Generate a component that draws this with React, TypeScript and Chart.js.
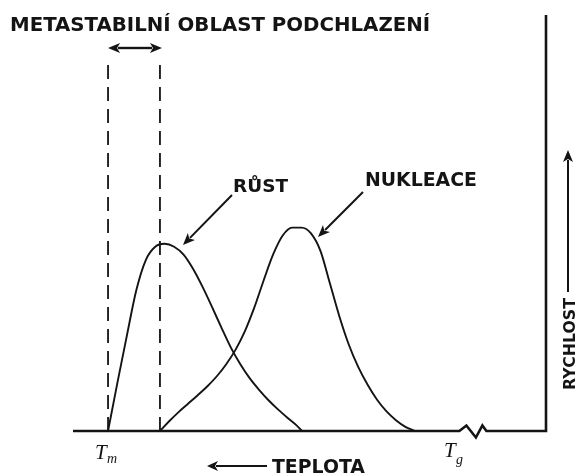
import { useEffect, useRef } from 'react';
import { Chart, registerables } from 'chart.js';

Chart.register(...registerables);

// Temperature axis in arbitrary units (0 = left end of axis, 100 = right end)
const GROWTH_T = [7, 9, 11, 13, 15, 17, 19, 21, 23, 25, 27, 29, 31, 33, 35, 37, 39, 41, 43, 45, 47, 48.1];
const GROWTH_RATE = [0, 11.7, 23, 33.9, 41.1, 44.3, 45, 44.3, 42.4, 39, 34.7, 29.9, 24.9, 20.1, 16.1, 12.7, 9.9, 7.4, 5.2, 3.2, 1.3, 0];
const NUCL_T = [18, 20, 22, 24, 26, 28, 30, 32, 34, 36, 38, 40, 42, 44, 46, 48, 50, 52, 54, 56, 58, 60, 62, 64, 66, 68, 70, 72];
const NUCL_RATE = [0, 2.4, 4.6, 6.6, 8.6, 10.7, 13.1, 16, 19.5, 24, 29.7, 36.3, 42.5, 47, 48.9, 48.9, 47.5, 43.3, 35.5, 27.6, 20.8, 15.4, 11.1, 7.5, 4.7, 2.6, 1, 0];

const TM = 7; // melting temperature
const META_LIMIT = 18; // end of metastable region
const TG = 80.7; // glass transition
const AXIS_BREAK = 84.3;
const DASH_TOP = 88;

const TITLE = 'METASTABILNÍ OBLAST PODCHLAZENÍ';
const GROWTH_LABEL = 'RŮST';
const NUCL_LABEL = 'NUKLEACE';
const X_TITLE = 'TEPLOTA';
const Y_TITLE = 'RYCHLOST';

const INK = '#141414';
const SANS = '"DejaVu Sans", Verdana, sans-serif';
const SERIF = '"Liberation Serif", "DejaVu Serif", serif';

function fitText(ctx: CanvasRenderingContext2D, text: string, x: number, y: number, width: number) {
  ctx.font = `bold 100px ${SANS}`;
  const w = ctx.measureText(text).width;
  const size = (100 * width) / w;
  ctx.font = `bold ${size.toFixed(2)}px ${SANS}`;
  ctx.textAlign = 'left';
  ctx.textBaseline = 'alphabetic';
  ctx.fillText(text, x, y);
}

function arrow(ctx: CanvasRenderingContext2D, x1: number, y1: number, x2: number, y2: number, head = 11, half = 5) {
  const ang = Math.atan2(y2 - y1, x2 - x1);
  const bx = x2 - head * Math.cos(ang);
  const by = y2 - head * Math.sin(ang);
  ctx.beginPath();
  ctx.moveTo(x1, y1);
  ctx.lineTo(bx + 2 * Math.cos(ang), by + 2 * Math.sin(ang));
  ctx.stroke();
  ctx.beginPath();
  ctx.moveTo(x2, y2);
  ctx.lineTo(bx - half * Math.sin(ang), by + half * Math.cos(ang));
  ctx.lineTo(bx + 3 * Math.cos(ang), by + 3 * Math.sin(ang));
  ctx.lineTo(bx + half * Math.sin(ang), by - half * Math.cos(ang));
  ctx.closePath();
  ctx.fill();
}

const overlay = {
  id: 'overlay',
  afterDatasetsDraw(chart: any) {
    const { ctx, chartArea: a, scales } = chart;
    const X = (v: number) => scales.x.getPixelForValue(v);
    const Y = (v: number) => scales.y.getPixelForValue(v);
    ctx.save();
    ctx.strokeStyle = INK;
    ctx.fillStyle = INK;

    // axes
    const y0 = Y(0);
    const bx = X(AXIS_BREAK);
    ctx.lineWidth = 2.6;
    ctx.lineJoin = 'miter';
    ctx.beginPath();
    ctx.moveTo(a.left - 2, y0);
    ctx.lineTo(bx - 13.5, y0);
    ctx.lineTo(bx - 6.5, y0 - 5.5);
    ctx.lineTo(bx + 3, y0 + 6.5);
    ctx.lineTo(bx + 9.5, y0 - 5.5);
    ctx.lineTo(bx + 13.5, y0);
    ctx.lineTo(a.right - 1, y0);
    ctx.lineTo(a.right - 1, a.top);
    ctx.stroke();

    // metastable double arrow
    const xa = X(TM);
    const xb = X(META_LIMIT);
    ctx.lineWidth = 2.4;
    arrow(ctx, (xa + xb) / 2, 48, xa, 48, 12, 5);
    arrow(ctx, (xa + xb) / 2, 48, xb + 2, 48, 12, 5);

    // label arrows
    ctx.lineWidth = 2;
    arrow(ctx, 232, 195, 183, 245, 12, 5);
    arrow(ctx, 363, 192, 318, 237, 12, 5);
    arrow(ctx, 267, 466, 207, 466, 11, 5);
    arrow(ctx, 568, 292, 568, 150, 12, 5);

    // texts
    fitText(ctx, TITLE, 10, 31, 420);
    fitText(ctx, GROWTH_LABEL, 233, 192, 55);
    fitText(ctx, NUCL_LABEL, 365, 186, 112);
    fitText(ctx, X_TITLE, 272, 473, 93);
    ctx.save();
    ctx.translate(575, 390);
    ctx.rotate(-Math.PI / 2);
    fitText(ctx, Y_TITLE, 0, 0, 92);
    ctx.restore();

    // Tm, Tg
    ctx.textAlign = 'left';
    ctx.font = `italic 21px ${SERIF}`;
    ctx.fillText('T', X(TM) - 13, 459);
    ctx.fillText('T', X(TG) - 12, 457);
    ctx.font = `italic 14px ${SERIF}`;
    ctx.fillText('m', X(TM) - 1, 463);
    ctx.fillText('g', X(TG) + 0, 464);

    ctx.restore();
  },
};

export default function App() {
  const ref = useRef<HTMLCanvasElement | null>(null);
  useEffect(() => {
    document.body.style.margin = '0';
    if (!ref.current) return;
    const line = (xs: number[], ys: number[]) => xs.map((x, i) => ({ x, y: ys[i] }));
    const curve = {
      showLine: true,
      borderColor: INK,
      borderWidth: 1.9,
      pointRadius: 0,
      cubicInterpolationMode: 'monotone',
    };
    const dashed = {
      showLine: true,
      borderColor: INK,
      borderWidth: 1.8,
      borderDash: [14, 8],
      pointRadius: 0,
    };
    const chart = new Chart(ref.current, {
      type: 'scatter',
      data: {
        datasets: [
          { label: GROWTH_LABEL, data: line(GROWTH_T, GROWTH_RATE), ...curve },
          { label: NUCL_LABEL, data: line(NUCL_T, NUCL_RATE), ...curve },
          { label: 'Tm', data: line([TM, TM], [0, DASH_TOP]), ...dashed },
          { label: 'limit', data: line([META_LIMIT, META_LIMIT], [0, DASH_TOP]), ...dashed },
        ],
      },
      options: {
        animation: false,
        responsive: false,
        maintainAspectRatio: false,
        layout: { padding: { left: 75, right: 34, top: 15, bottom: 44 } },
        plugins: { legend: { display: false }, tooltip: { enabled: false } },
        scales: {
          x: { type: 'linear', min: 0, max: 100, display: false },
          y: { type: 'linear', min: 0, max: 100, display: false },
        },
      },
      plugins: [overlay],
    } as any);
    return () => chart.destroy();
  }, []);
  return (
    <div style={{ width: 581, height: 475, background: '#fff' }}>
      <canvas ref={ref} width={581} height={475} />
    </div>
  );
}
